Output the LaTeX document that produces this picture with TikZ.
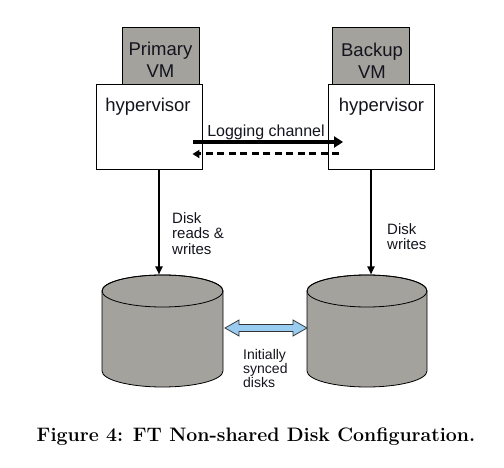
\documentclass[tikz,border=0pt]{standalone}
\usepackage{fontspec}
\newfontfamily\arial{Liberation Sans}
\usetikzlibrary{arrows.meta,calc}
\definecolor{vmgray}{RGB}{163,162,157}
\definecolor{syncblue}{RGB}{153,204,240}
\definecolor{txtdark}{RGB}{20,20,30}
\begin{document}
\begin{tikzpicture}[x=1pt,y=-1pt,
  vmbox/.style={draw=black,line width=0.9pt,fill=vmgray,inner sep=0pt,minimum width=77pt,minimum height=57pt},
  hvbox/.style={draw=black,line width=0.9pt,fill=white,inner sep=0pt,minimum width=106pt,minimum height=85pt},
  bigtxt/.style={font=\arial\fontsize{18.5}{22}\selectfont,align=center,inner sep=0pt,text=txtdark},
  midtxt/.style={font=\arial\fontsize{15}{15.5}\selectfont,align=left,inner sep=0pt,text=txtdark},
  smltxt/.style={font=\arial\fontsize{14}{14}\selectfont,align=left,inner sep=0pt,text=txtdark},
  logtxt/.style={font=\arial\fontsize{16}{18}\selectfont,inner sep=0pt,text=txtdark},
  captxt/.style={font=\bfseries\fontsize{19.5}{22}\selectfont,inner sep=0pt},
  disk/.style={draw=black,line width=0.8pt,fill=vmgray},
  vflow/.style={line width=2pt,-{Triangle[length=8pt,width=7pt]}},
  logsolid/.style={line width=4pt,-{Triangle[length=9pt,width=11pt]}},
  logdash/.style={line width=3pt,dash pattern=on 7pt off 4.5pt,-{Triangle[length=7pt,width=8pt]}},
  syncarrow/.style={draw=black!80,line width=0.8pt,fill=syncblue}
]
\useasboundingbox (0,0) rectangle (504,468);

% VM boxes and hypervisors
\node[vmbox] (pvm) at (160.5,55.5) {};
\node[hvbox] (phv) at (149,126.5) {};
\node[vmbox] (bvm) at (370.5,55.5) {};
\node[hvbox] (bhv) at (381.5,126.5) {};

\node[bigtxt,anchor=north] (pvmt) at (160.5,41.5) {Primary\\VM};
\node[bigtxt,anchor=north] (bvmt) at (372,42.5) {Backup\\VM};
\node[bigtxt,anchor=north] (phvt) at (148,98) {hypervisor};
\node[bigtxt,anchor=north] (bhvt) at (381.5,98) {hypervisor};

% logging channel
\node[logtxt,anchor=base] (logt) at (266,137) {Logging channel};
\draw[logsolid] ($(phv.east)+(-9,15.5)$) -- ($(bhv.west)+(15,15.5)$);
\draw[logdash] ($(bhv.west)+(11,27.5)$) -- ($(phv.east)+(-10,27.5)$);

% disks
\coordinate (ldtop) at (159,274.5);
\coordinate (rdtop) at (371,274.5);
\path[disk] (102,291) -- (102,371) arc[start angle=180,end angle=360,x radius=60.5pt,y radius=16pt]
  -- (223,291) arc[start angle=0,end angle=180,x radius=60.5pt,y radius=16pt] -- cycle;
\draw[line width=0.8pt] (162.5,291) ellipse [x radius=60.5pt,y radius=16pt];
\path[disk] (307,291) -- (307,371) arc[start angle=180,end angle=360,x radius=60pt,y radius=16pt]
  -- (427,291) arc[start angle=0,end angle=180,x radius=60pt,y radius=16pt] -- cycle;
\draw[line width=0.8pt] (367,291) ellipse [x radius=60pt,y radius=16pt];

% disk access arrows
\draw[vflow] ($(phv.south)+(10,0)$) -- (ldtop);
\draw[vflow] ($(bhv.south)+(-10.5,0)$) -- (rdtop);
\node[midtxt,anchor=north west] (plbl) at (172,212) {Disk\\reads \&\\writes};
\node[midtxt,anchor=north west] (blbl) at (387,223) {Disk\\writes};

% sync arrow
\coordinate (sa) at (225,328);
\coordinate (sb) at (307,328);
\path[syncarrow] (sa) -- ++(14,-8) -- ++(0,4.5) -- ++(54,0) -- ++(0,-4.5) -- (sb)
  -- ++(-14,8) -- ++(0,-4.5) -- ++(-54,0) -- ++(0,4.5) -- cycle;
\node[smltxt,anchor=north west] (synct) at (243,349) {Initially\\synced\\disks};

% caption
\node[captxt,anchor=base] (cap) at (256,441) {Figure 4: FT Non-shared Disk Configuration.};
\end{tikzpicture}
\end{document}
